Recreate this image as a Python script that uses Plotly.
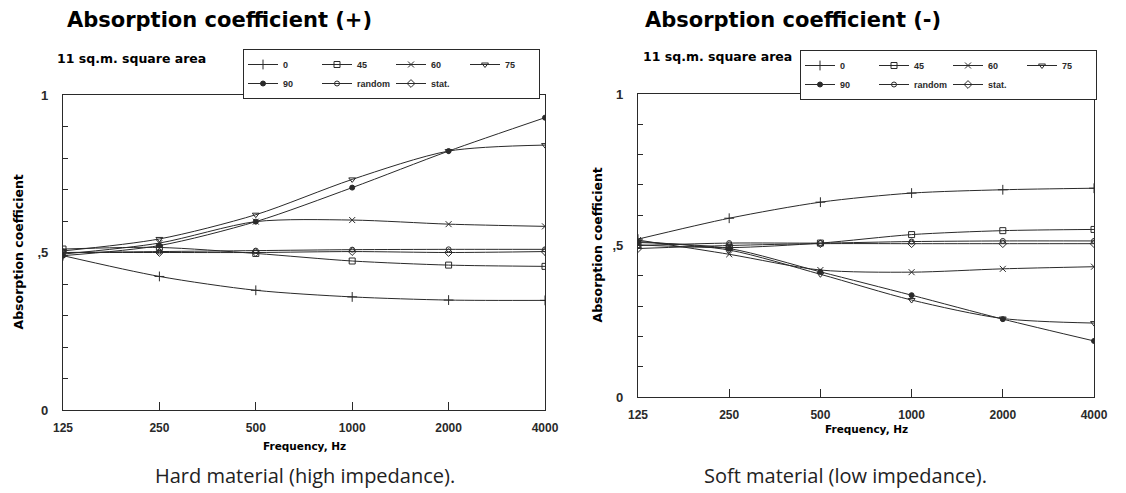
import math
import plotly.graph_objects as go

freqs = [125, 250, 500, 1000, 2000, 4000]
freq_labels = ["125", "250", "500", "1000", "2000", "4000"]
series_names = ["0", "45", "60", "75", "90", "random", "stat."]

# Hard material (high impedance)
hard_0 = [0.490, 0.424, 0.380, 0.359, 0.349, 0.348]
hard_45 = [0.511, 0.516, 0.497, 0.473, 0.460, 0.456]
hard_60 = [0.495, 0.530, 0.598, 0.603, 0.590, 0.583]
hard_75 = [0.505, 0.543, 0.620, 0.732, 0.822, 0.841]
hard_90 = [0.490, 0.522, 0.598, 0.706, 0.822, 0.928]
hard_random = [0.500, 0.503, 0.506, 0.509, 0.510, 0.510]
hard_stat = [0.500, 0.500, 0.500, 0.503, 0.500, 0.503]

# Soft material (low impedance)
soft_0 = [0.521, 0.590, 0.643, 0.673, 0.684, 0.689]
soft_45 = [0.502, 0.493, 0.508, 0.536, 0.549, 0.553]
soft_60 = [0.518, 0.471, 0.419, 0.412, 0.423, 0.430]
soft_75 = [0.513, 0.485, 0.405, 0.320, 0.259, 0.244]
soft_90 = [0.510, 0.490, 0.413, 0.336, 0.257, 0.185]
soft_random = [0.500, 0.508, 0.508, 0.513, 0.515, 0.515]
soft_stat = [0.490, 0.500, 0.506, 0.506, 0.506, 0.506]

hard = [hard_0, hard_45, hard_60, hard_75, hard_90, hard_random, hard_stat]
soft = [soft_0, soft_45, soft_60, soft_75, soft_90, soft_random, soft_stat]

symbols = ["cross-thin", "square-open", "x-thin", "triangle-down-open",
           "circle", "circle-open", "diamond-open"]
sizes = [7, 6, 6, 6, 5, 5, 6]
groups = ["a", "b", "c", "d", "a", "b", "c"]
INK = "#2a2a2a"
FONT = "Liberation Sans"
WIDE = "DejaVu Sans"

W, H = 1126, 493
fig = go.Figure()

for panel, (data, xa, ya, leg) in enumerate([(hard, "x", "y", "legend"),
                                              (soft, "x2", "y2", "legend2")]):
    for i, name in enumerate(series_names):
        fig.add_trace(go.Scatter(
            x=freqs, y=data[i], name=name, xaxis=xa, yaxis=ya, legend=leg,
            legendgroup=f"{panel}{groups[i]}",
            mode="lines+markers",
            line=dict(color=INK, width=1, shape="spline", smoothing=0.8),
            marker=dict(symbol=symbols[i], size=sizes[i], color=INK,
                        line=dict(color=INK, width=1)),
            showlegend=True,
        ))


def px_x(v):
    return v / W


def px_y(v):
    return 1 - v / H


# panel geometry in pixels
L1, R1, T1, B1 = 63, 545, 95, 410
L2, R2, T2, B2 = 638, 1094, 94, 397

xrange_ = [math.log10(125), math.log10(4000)]
yticks = [round(i * 0.1, 1) for i in range(11)]
ytext = ["0", "", "", "", "", ",5", "", "", "", "", "1"]

common_x = dict(type="log", range=xrange_, tickvals=freqs, ticktext=freq_labels,
                ticks="inside", ticklen=8, tickcolor=INK, showgrid=False,
                zeroline=False, showline=True, linecolor=INK, linewidth=1.3,
                mirror=True, automargin=False,
                tickfont=dict(family=FONT, size=12, color=INK, weight="bold"),
                ticklabelstandoff=6)
common_y = dict(range=[0, 1], tickvals=yticks, ticktext=ytext, ticks="inside",
                ticklen=5, tickcolor=INK, showgrid=False, zeroline=False,
                showline=True, linecolor=INK, linewidth=1.3, mirror=True,
                automargin=False,
                tickfont=dict(family=FONT, size=13, color=INK, weight="bold"),
                ticklabelstandoff=11)

legend_common = dict(xanchor="left", yanchor="top",
                     orientation="h", traceorder="grouped", tracegroupgap=0,
                     bordercolor=INK, borderwidth=1, bgcolor="white",
                     itemwidth=30, entrywidth=29,
                     font=dict(family=FONT, size=9, color=INK, weight="bold"))

fig.update_layout(
    width=W, height=H, margin=dict(l=0, r=0, t=0, b=0, autoexpand=False),
    paper_bgcolor="white", plot_bgcolor="white",
    xaxis=dict(domain=[px_x(L1), px_x(R1)], anchor="y", **common_x),
    yaxis=dict(domain=[px_y(B1), px_y(T1)], anchor="x", **common_y),
    xaxis2=dict(domain=[px_x(L2), px_x(R2)], anchor="y2", **common_x),
    yaxis2=dict(domain=[px_y(B2), px_y(T2)], anchor="x2", **common_y),
    legend=dict(x=px_x(243), y=px_y(49), **legend_common),
    legend2=dict(x=px_x(800), y=px_y(50), **legend_common),
    showlegend=True,
)

texts = [
    # text, x, y, size, family, xanchor, angle
    ("Absorption coefficient (+)", 65, 20, 21, WIDE, "left", 0),
    ("Absorption coefficient (-)", 643, 20, 21, WIDE, "left", 0),
    ("11 sq.m. square area", 55, 58, 12.5, WIDE, "left", 0),
    ("11 sq.m. square area", 641, 57, 12.5, WIDE, "left", 0),
    ("Frequency, Hz", (L1 + R1) / 2, 446, 10.5, WIDE, "center", 0),
    ("Frequency, Hz", (L2 + R2) / 2, 429, 10.5, WIDE, "center", 0),
    ("Absorption coefficient", 18, (T1 + B1) / 2, 12.5, WIDE, "center", -90),
    ("Absorption coefficient", 597, (T2 + B2) / 2, 12.5, WIDE, "center", -90),
]
for text, x, y, size, fam, xanc, ang in texts:
    fig.add_annotation(text=text, x=px_x(x), y=px_y(y), xref="paper", yref="paper",
                       xanchor=xanc, yanchor="middle", showarrow=False, textangle=ang,
                       font=dict(family=fam, size=size, color="black", weight="bold"))

for text, cx in [("Hard material (high impedance).", 305),
                 ("Soft material (low impedance).", 845)]:
    fig.add_annotation(text=text, x=px_x(cx), y=px_y(475), xref="paper", yref="paper",
                       xanchor="center", yanchor="middle", showarrow=False,
                       font=dict(family="Open Sans", size=20, color="#222222"))

fig.write_html(
    "out.html",
    config={"displayModeBar": False},
    post_script="document.body.style.margin='0px';document.body.style.padding='0px';"
                "document.body.style.overflow='hidden';",
)
